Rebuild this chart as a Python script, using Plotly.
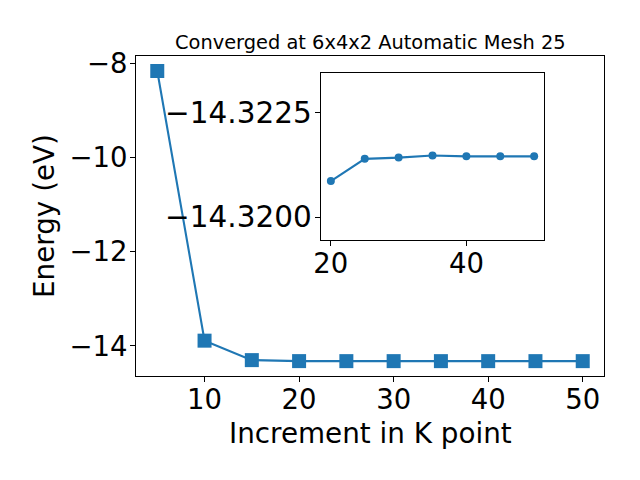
import plotly.graph_objects as go

# Main series
k_main = [5, 10, 15, 20, 25, 30, 35, 40, 45, 50]
e_main = [-8.163, -13.887, -14.300, -14.3209, -14.3214, -14.3214, -14.3215, -14.3215, -14.3215, -14.3215]

# Inset series
k_inset = [20, 25, 30, 35, 40, 45, 50]
e_inset = [-14.32086, -14.32139, -14.32142, -14.32147, -14.32145, -14.32145, -14.32145]

main_xticks = [10, 20, 30, 40, 50]
main_yticks = [-14, -12, -10, -8]
inset_xticks = [20, 40]
inset_yticks = [-14.3225, -14.3200]

title_text = "Converged at 6x4x2 Automatic Mesh 25"
xlabel = "Increment in K point"
ylabel = "Energy (eV)"

BLUE = "#1f77b4"
FONT = "DejaVu Sans"

fig = go.Figure()
fig.add_trace(go.Scatter(
    x=k_main, y=e_main, mode="lines+markers",
    line=dict(color=BLUE, width=2.1),
    marker=dict(symbol="square", size=14, color=BLUE),
    xaxis="x", yaxis="y", showlegend=False,
))
fig.add_trace(go.Scatter(
    x=k_inset, y=e_inset, mode="lines+markers",
    line=dict(color=BLUE, width=2.1),
    marker=dict(symbol="circle", size=8, color=BLUE),
    xaxis="x2", yaxis="y2", showlegend=False,
))

OFF = 8  # page body margin
W, H = 640, 480
# target page-pixel positions of the main axes box
AX_L, AX_R, AX_T, AX_B = 136, 604, 56, 376
L, T = AX_L - OFF, AX_T - OFF
R, B = W - (AX_R - OFF), H - (AX_B - OFF)
pw, ph = AX_R - AX_L, AX_B - AX_T

def px_x(x):
    return (x - AX_L) / pw

def px_y(y):
    return (AX_B - y) / ph

axis_common = dict(
    showgrid=False, zeroline=False, showline=True, mirror=True,
    linecolor="black", linewidth=1.1, ticks="outside", ticklen=5,
    tickwidth=1.1, tickcolor="black", automargin=False,
    tickfont=dict(family=FONT, size=27.5, color="black"),
)

fig.update_layout(
    width=W, height=H,
    margin=dict(l=L, r=R, t=T, b=B, pad=0),
    paper_bgcolor="white", plot_bgcolor="white",
    font=dict(family=FONT, color="black"),
    xaxis=dict(domain=[0, 1], range=[2.75, 52.25], tickvals=main_xticks,
               anchor="y", ticklabelstandoff=-6, **axis_common),
    yaxis=dict(domain=[0, 1], range=[-14.637, -7.845], tickvals=main_yticks,
               anchor="x", ticklabelstandoff=-3, **axis_common),
    xaxis2=dict(domain=[px_x(320.7), px_x(544.3)], range=[18.5, 51.5],
                tickvals=inset_xticks, anchor="y2", ticklabelstandoff=-6,
                **axis_common),
    yaxis2=dict(domain=[px_y(240), px_y(72.7)], range=[-14.31945, -14.32345],
                tickvals=inset_yticks, tickformat=".4f", anchor="x2",
                ticklabelstandoff=-3,
                **{**axis_common, "tickfont": dict(family=FONT, size=29.5, color="black")}),
    annotations=[
        dict(text=title_text, xref="paper", yref="paper", x=0.5, y=px_y(42),
             xanchor="center", yanchor="middle", showarrow=False,
             font=dict(family=FONT, size=19.4, color="black")),
        dict(text=xlabel, xref="paper", yref="paper", x=0.5, y=px_y(433),
             xanchor="center", yanchor="middle", showarrow=False,
             font=dict(family=FONT, size=27.8, color="black")),
        dict(text=ylabel, xref="paper", yref="paper", x=px_x(44), y=0.5,
             xanchor="center", yanchor="middle", showarrow=False, textangle=-90,
             font=dict(family=FONT, size=27.8, color="black")),
    ],
)

fig.write_html("out.html")
